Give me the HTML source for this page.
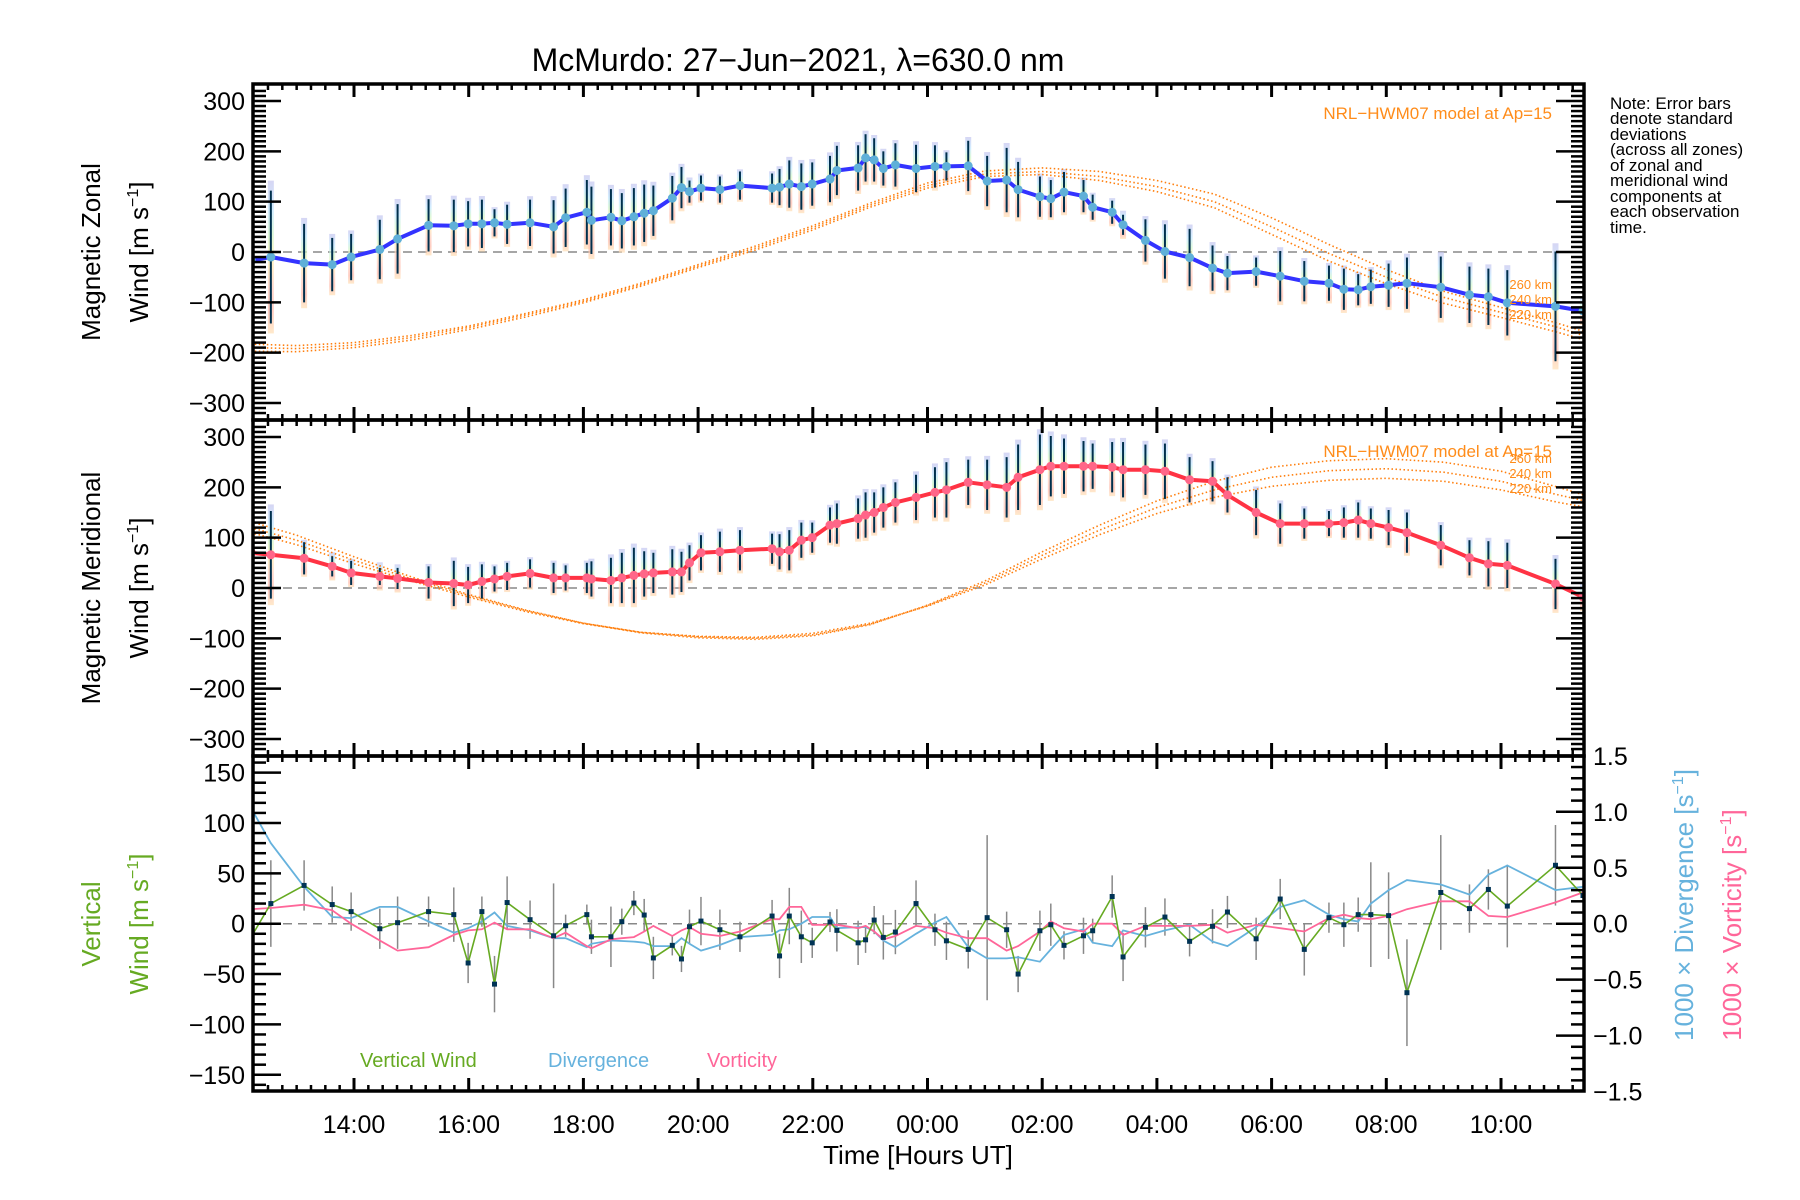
<!DOCTYPE html>
<html><head><meta charset="utf-8"><title>McMurdo winds</title>
<style>
html,body{margin:0;padding:0;background:#fff;}
svg{display:block;font-family:"Liberation Sans","DejaVu Sans",sans-serif;}
</style></head>
<body>
<svg id="chart" width="1800" height="1200" viewBox="0 0 1800 1200" xmlns="http://www.w3.org/2000/svg">
<defs>
<clipPath id="c1"><rect x="253" y="84" width="1331" height="336"/></clipPath>
<clipPath id="c2"><rect x="253" y="420" width="1331" height="336"/></clipPath>
<clipPath id="c3"><rect x="253" y="756" width="1331" height="335"/></clipPath>
<linearGradient id="pastel" x1="0" y1="0" x2="0" y2="1">
<stop offset="0" stop-color="#c4c4ef"/><stop offset="0.2" stop-color="#bfe6ff"/><stop offset="0.35" stop-color="#cff5ca"/>
<stop offset="0.5" stop-color="#fff3ad"/><stop offset="0.7" stop-color="#ffcabb"/><stop offset="0.85" stop-color="#ffb8a8"/><stop offset="1" stop-color="#ffe0b5"/>
</linearGradient>
</defs>
<text x="798" y="71" font-size="32" text-anchor="middle">McMurdo: 27−Jun−2021, λ=630.0 nm</text>
<g id="g1"></g>
<g id="g2"></g>
<g id="g3"></g>
<g id="axes"></g>

<text transform="translate(100,252) rotate(-90)" font-size="26" text-anchor="middle">Magnetic Zonal</text>
<text transform="translate(148,252) rotate(-90)" font-size="26" text-anchor="middle">Wind [m s<tspan font-size="16" dy="-10">−1</tspan><tspan dy="10">]</tspan></text>
<text transform="translate(100,588) rotate(-90)" font-size="26" text-anchor="middle">Magnetic Meridional</text>
<text transform="translate(148,588) rotate(-90)" font-size="26" text-anchor="middle">Wind [m s<tspan font-size="16" dy="-10">−1</tspan><tspan dy="10">]</tspan></text>
<text transform="translate(100,924) rotate(-90)" font-size="26" text-anchor="middle" fill="#66aa22">Vertical</text>
<text transform="translate(148,924) rotate(-90)" font-size="26" text-anchor="middle" fill="#66aa22">Wind [m s<tspan font-size="16" dy="-10">−1</tspan><tspan dy="10">]</tspan></text>
<text transform="translate(1693,905) rotate(-90)" font-size="26" text-anchor="middle" fill="#66b2dd">1000 × Divergence [s<tspan font-size="16" dy="-10">−1</tspan><tspan dy="10">]</tspan></text>
<text transform="translate(1741,925) rotate(-90)" font-size="26" text-anchor="middle" fill="#ff6699">1000 × Vorticity [s<tspan font-size="16" dy="-10">−1</tspan><tspan dy="10">]</tspan></text>
<text x="918" y="1164" font-size="26" text-anchor="middle">Time [Hours UT]</text>

<text x="1552" y="119" font-size="17" text-anchor="end" fill="#ff8c1a">NRL−HWM07 model at Ap=15</text>
<text x="1552" y="289" font-size="13" text-anchor="end" fill="#ff8c1a">260 km</text>
<text x="1552" y="304" font-size="13" text-anchor="end" fill="#ff8c1a">240 km</text>
<text x="1552" y="319" font-size="13" text-anchor="end" fill="#ff8c1a">220 km</text>
<text x="1552" y="457" font-size="17" text-anchor="end" fill="#ff8c1a">NRL−HWM07 model at Ap=15</text>
<text x="1552" y="463" font-size="13" text-anchor="end" fill="#ff8c1a">260 km</text>
<text x="1552" y="478" font-size="13" text-anchor="end" fill="#ff8c1a">240 km</text>
<text x="1552" y="493" font-size="13" text-anchor="end" fill="#ff8c1a">220 km</text>

<g font-size="17">
<text x="1610" y="109">Note: Error bars</text>
<text x="1610" y="124">denote standard</text>
<text x="1610" y="140">deviations</text>
<text x="1610" y="155">(across all zones)</text>
<text x="1610" y="171">of zonal and</text>
<text x="1610" y="186">meridional wind</text>
<text x="1610" y="202">components at</text>
<text x="1610" y="217">each observation</text>
<text x="1610" y="233">time.</text>
</g>
<text x="360" y="1067" font-size="20" fill="#66aa22">Vertical Wind</text>
<text x="548" y="1067" font-size="20" fill="#66b2dd">Divergence</text>
<text x="707" y="1067" font-size="20" fill="#ff6699">Vorticity</text>
</svg>
<script>
const times = [12.21,12.55,13.13,13.62,13.95,14.45,14.76,15.30,15.74,15.99,16.23,16.45,16.67,17.07,17.48,17.69,18.06,18.14,
18.48,18.67,18.88,19.06,19.22,19.55,19.71,19.85,20.05,20.38,20.73,21.29,21.42,21.59,21.80,21.99,22.30,22.42,22.79,22.92,23.07,23.23,23.44,23.80,24.13,24.33,24.71,25.04,25.38,25.58,25.96,26.15,26.38,26.72,26.88,27.22,
27.41,27.80,28.14,28.57,28.97,29.23,29.73,30.15,30.57,31.00,31.26,31.51,31.73,32.04,32.36,32.95,33.45,33.78,34.11,34.95,35.43];
const zonal = [-17,-10,-22,-25,-10,5,26,53,52,56,56,58,55,58,50,68,79,63,
69,62,70,77,82,107,128,120,127,124,132,127,129,135,130,135,145,162,167,187,183,166,173,166,170,170,171,141,143,124,110,106,119,111,89,79,54,23,1,-11,
-32,-42,-39,-48,-58,-62,-74,-75,-69,-66,-62,-70,-85,-89,-101,-108,-117];
const zonalErr = [70,132,78,53,46,59,69,52,52,45,48,27,39,46,53,58,64,67,
56,55,57,57,50,44,41,22,25,26,28,29,36,47,46,43,46,49,45,47,43,34,43,47,42,28,50,50,64,55,40,37,40,32,25,23,20,42,54,57,
45,34,28,50,40,35,41,31,34,43,51,61,56,56,65,109,0];
const meridional = [70,66,59,43,30,23,19,11,9,6,13,18,23,29,
20,20,20,18,15,20,25,28,30,32,32,50,70,72,75,78,72,75,95,100,125,128,138,145,150,160,170,180,190,195,210,205,200,220,235,242,242,242,242,240,235,235,232,215,212,185,150,128,128,128,130,135,128,120,110,85,60,48,45,8,-18];
const meridionalErr = [60,87,32,20,24,17,21,32,45,36,34,25,27,28,
30,25,30,35,45,50,55,45,40,45,40,35,35,40,40,30,35,40,35,30,35,40,40,45,40,40,40,45,50,55,45,50,60,65,70,60,55,50,45,50,55,50,55,45,40,35,45,40,30,25,30,35,30,35,40,40,35,45,45,50,0];
const vertical = [-13,20,38,19,12,-5,1,12,9,-39,12,-60,21,4,-12,-2,9,-13,
-13,2,20.5,8.6,-34,-21.5,-35,-3,2.6,-6,-13,7.6,-32,7.6,-13,-19,1.7,-6.6,-19,-16,3.6,-13.6,-8.3,20,-6,-17,-25.5,6,-6,-50,-7,-1,-21.5,-12,-7,27,
-33,-3.6,6.6,-17.5,-2.6,11.6,-15,24.5,-25.5,6,-1,9,9,8,-68.5,31,15,34,17.5,58,28];
const verticalErr = [0,43,25,18,19,20,26,15,27,20,15,28,26,19,52,11,10,17,
30,13,12,16,21,10,13,17,24,20,15,16,22,28,26,15,10,21,22,13,14,22,22,23,16,19,19,82,18,18,20,21,14,18,12,21,
24,20,18.5,15,17,16,21,20,26,15,22,17,52,43,53,57,24,20,41,40,0];
const divergence = [1.03,0.72,0.33,0.06,0.05,0.15,0.15,0.02,-0.08,-0.04,0.02,0.10,-0.02,-0.06,-0.13,-0.13,-0.21,-0.18,
-0.15,-0.155,-0.16,-0.17,-0.2,-0.2,-0.13,-0.18,-0.24,-0.19,-0.12,-0.10,-0.06,-0.05,0.0,0.06,0.06,-0.04,-0.03,-0.03,-0.07,-0.15,-0.21,-0.09,0.01,0.06,-0.21,-0.31,-0.31,-0.30,-0.34,-0.23,-0.10,-0.05,-0.17,-0.2,
-0.06,-0.11,-0.06,-0.01,-0.16,-0.2,-0.03,0.15,0.21,0.08,0.04,0.02,0.18,0.30,0.39,0.35,0.26,0.44,0.52,0.30,0.33];
const vorticity = [0.13,0.14,0.17,0.12,0.0,-0.15,-0.24,-0.21,-0.1,-0.06,-0.05,0.01,-0.05,-0.05,-0.13,-0.08,-0.2,-0.22,
-0.14,-0.13,-0.12,-0.07,-0.02,-0.11,-0.06,-0.03,-0.09,-0.11,-0.07,0.04,0.04,0.15,0.15,-0.01,-0.01,-0.01,-0.04,-0.02,-0.07,-0.14,-0.11,-0.02,-0.04,-0.08,-0.13,-0.13,-0.24,-0.2,-0.07,0.02,-0.04,-0.07,0.0,0.0,
-0.1,-0.02,-0.02,-0.02,-0.01,-0.08,-0.01,-0.04,-0.07,0.05,0.08,0.05,0.04,0.07,0.13,0.2,0.2,0.07,0.06,0.19,0.28];
const modelHours = [12.2,13,14,15,16,17,18,19,20,21,22,23,24,25,26,27,28,29,30,31,32,33,34,35,35.5];
const zonal260 = [-183,-186,-180,-166,-147,-122,-95,-62,-25,12,52,97,137,161,167,160,142,115,68,15,-35,-78,-110,-142,-160];
const zonal240 = [-190,-192,-185,-170,-150,-125,-98,-65,-28,8,48,93,132,155,160,150,130,100,50,-3,-50,-90,-120,-150,-168];
const zonal220 = [-197,-198,-190,-175,-154,-129,-101,-68,-31,4,44,89,127,150,154,142,120,88,35,-18,-63,-102,-130,-160,-176];
const merid260 = [132,105,62,22,-13,-44,-70,-89,-99,-102,-95,-73,-34,14,72,125,173,212,240,253,257,250,232,200,183];
const merid240 = [120,95,55,18,-15,-45,-70,-88,-97,-100,-93,-72,-35,10,65,115,160,195,220,233,237,230,212,185,172];
const merid220 = [110,86,48,14,-18,-47,-71,-88,-96,-98,-90,-70,-36,6,58,106,148,180,202,214,218,212,195,170,160];
const windTicks = [-300,-200,-100,0,100,200,300];
const vertTicks = [-150,-100,-50,0,50,100,150];
const rightTicks = [-1.5,-1.0,-0.5,0.0,0.5,1.0,1.5];
const hourTicks = [14,16,18,20,22,24,26,28,30,32,34];

const NS = "http://www.w3.org/2000/svg";
const L = 253, R = 1584;
const PT = [84, 420, 756], PB = [420, 756, 1091];
const X = h => 354 + (h - 14) * 57.35;
const Y1 = v => 252 - v * 0.5033;
const Y2 = v => 588 - v * 0.5033;
const Y3 = v => 923.7 - v * 1.007;
const YR = v => 923.7 - v * 111.9;

function mk(tag, attrs, parent) {
  const e = document.createElementNS(NS, tag);
  for (const k in attrs) e.setAttribute(k, attrs[k]);
  parent.appendChild(e);
  return e;
}
const g1 = document.getElementById('g1'), g2 = document.getElementById('g2'), g3 = document.getElementById('g3');
const ax = document.getElementById('axes');

function zeroLine(g, y, name) {
  const l = mk('line', {x1: L, x2: R, y1: y, y2: y, stroke: '#888', 'stroke-width': 1.5, 'stroke-dasharray': '9 6'}, g);
  
  
}
function poly(g, xs, ys, attrs, name) {
  const pts = xs.map((x, i) => x.toFixed(1) + ',' + ys[i].toFixed(1)).join(' ');
  const p = mk('polyline', Object.assign({points: pts, fill: 'none'}, attrs), g);
  
  
  return p;
}

function windPanel(g, clip, Y, vals, errs, m260, m240, m220, lineColor, dotColor, prefix) {
  const cg = mk('g', {'clip-path': 'url(#' + clip + ')'}, g);
  zeroLine(cg, Y(0), prefix + '-zero-line');
  times.forEach((t, i) => {
    const s = Math.max(errs[i] * 1.15, 28);
    const r = mk('rect', {x: X(t) - 3, y: Y(vals[i] + s), width: 6, height: Y(vals[i] - s) - Y(vals[i] + s), fill: 'url(#pastel)', opacity: 0.7}, cg);
    
    
  });
  const mx = modelHours.map(X);
  [[m260, '260'], [m240, '240'], [m220, '220']].forEach(([m, k]) => {
    poly(cg, mx, m.map(Y), {stroke: '#ff7f0e', 'stroke-width': 1.6, 'stroke-dasharray': '1.5 2.5'}, prefix + '-model-' + k + 'km');
  });
  times.forEach((t, i) => {
    if (errs[i] <= 0) return;
    const l = mk('line', {x1: X(t), x2: X(t), y1: Y(vals[i] + errs[i]), y2: Y(vals[i] - errs[i]), stroke: '#00304d', 'stroke-width': 2}, cg);
    
    
  });
  poly(cg, times.map(X), vals.map(Y), {stroke: lineColor, 'stroke-width': 4, 'stroke-linejoin': 'round'}, prefix + '-wind-line');
  times.forEach((t, i) => {
    const c = mk('circle', {cx: X(t), cy: Y(vals[i]), r: 4.5, fill: dotColor}, cg);
    
    
  });
}
windPanel(g1, 'c1', Y1, zonal, zonalErr, zonal260, zonal240, zonal220, '#3333ff', '#5fb0d8', 'zonal');
windPanel(g2, 'c2', Y2, meridional, meridionalErr, merid260, merid240, merid220, '#ff3344', '#ff6688', 'meridional');

const c3 = mk('g', {'clip-path': 'url(#c3)'}, g3);
zeroLine(c3, Y3(0), 'vertical-zero-line');
times.forEach((t, i) => {
  if (verticalErr[i] <= 0) return;
  const l = mk('line', {x1: X(t), x2: X(t), y1: Y3(vertical[i] + verticalErr[i]), y2: Y3(vertical[i] - verticalErr[i]), stroke: '#888', 'stroke-width': 1.5}, c3);
  
  
});
poly(c3, times.map(X), divergence.map(YR), {stroke: '#66b2dd', 'stroke-width': 1.8}, 'divergence-line');
poly(c3, times.map(X), vorticity.map(YR), {stroke: '#ff6699', 'stroke-width': 1.8}, 'vorticity-line');
poly(c3, times.map(X), vertical.map(Y3), {stroke: '#66aa22', 'stroke-width': 1.6}, 'vertical-wind-line');
times.forEach((t, i) => {
  if (i === 0) return;
  const r = mk('rect', {x: X(t) - 2.5, y: Y3(vertical[i]) - 2.5, width: 5, height: 5, fill: '#003355'}, c3);
  
  
});

function ln(x1, y1, x2, y2, w, name) {
  const l = mk('line', {x1, y1, x2, y2, stroke: '#000', 'stroke-width': w}, ax);
  
  
}
function txt(x, y, s, anchor, size, name) {
  const t = mk('text', {x, y, 'font-size': size, 'text-anchor': anchor}, ax);
  t.textContent = s;
  
  
}
for (let p = 0; p < 3; p++) {
  const r = mk('rect', {x: L, y: PT[p], width: R - L, height: PB[p] - PT[p], fill: 'none', stroke: '#000', 'stroke-width': 3.5}, ax);
  
  
  for (let q = 12.25; q <= 35.5; q += 0.25) {
    const x = X(q);
    if (x < L + 2 || x > R - 2) continue;
    const major = Math.abs(q - Math.round(q)) < 1e-6 && Math.round(q) % 2 === 0;
    const len = major ? 13 : 6;
    ln(x, PT[p], x, PT[p] + len, major ? 3 : 2.5, 'x-tick');
    ln(x, PB[p], x, PB[p] - len, major ? 3 : 2.5, 'x-tick');
  }
}
[[Y1, 0], [Y2, 1]].forEach(([Y, p]) => {
  for (let v = -330; v <= 330; v += 10) {
    const y = Y(v);
    if (y < PT[p] + 2 || y > PB[p] - 2) continue;
    const major = v % 100 === 0;
    const len = major ? 28 : 13;
    ln(L, y, L + len, y, 2.5, 'y-tick');
    ln(R, y, R - len, y, 2.5, 'y-tick');
  }
  windTicks.forEach(v => txt(245, Y(v) + 9, String(v).replace('-', '−'), 'end', 25, 'y-tick-label'));
});
for (let v = -160; v <= 160; v += 10) {
  const y = Y3(v);
  if (y < PT[2] + 2 || y > PB[2] - 2) continue;
  ln(L, y, L + (v % 50 === 0 ? 28 : 13), y, 2.5, 'y-tick-left');
}
vertTicks.forEach(v => txt(245, Y3(v) + 9, String(v).replace('-', '−'), 'end', 25, 'y-tick-label'));
for (let k = -15; k <= 15; k++) {
  const y = YR(k / 10);
  if (y < PT[2] + 2 || y > PB[2] - 2) continue;
  ln(R, y, R - (k % 5 === 0 ? 28 : 13), y, 2.5, 'y-tick-right');
}
rightTicks.forEach(v => txt(1593, YR(v) + 9, (v < 0 ? '−' : '') + Math.abs(v).toFixed(1), 'start', 25, 'right-tick-label'));
hourTicks.forEach(h => txt(X(h), 1133, String(h % 24).padStart(2, '0') + ':00', 'middle', 25, 'x-tick-label'));
</script>
</body></html>
